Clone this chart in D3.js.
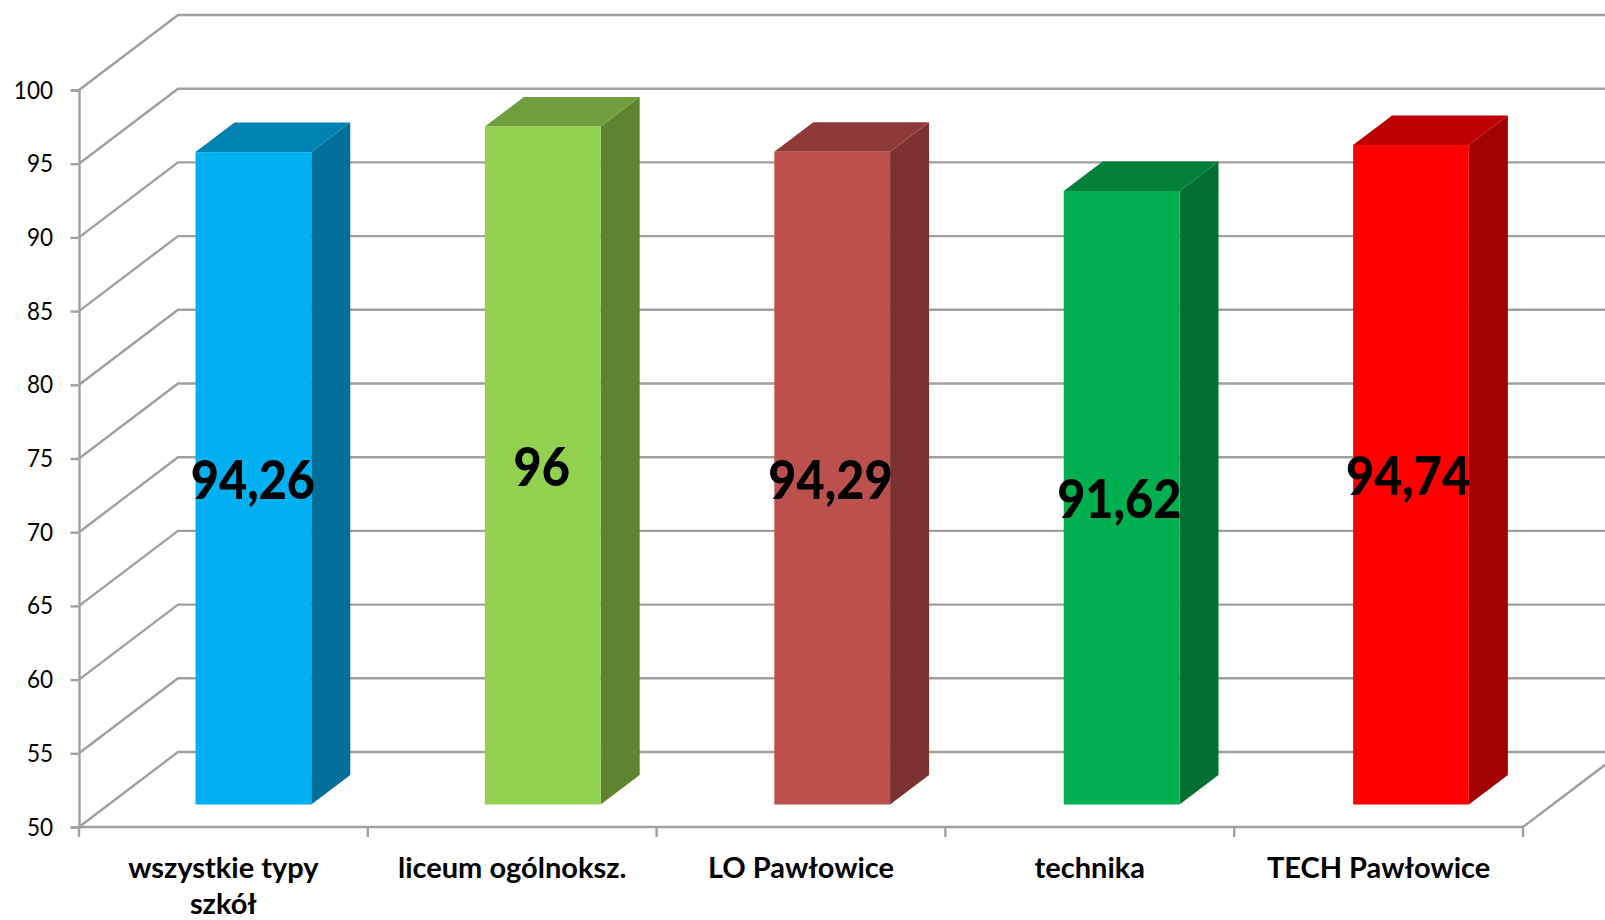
<!DOCTYPE html>
<html><head><meta charset="utf-8">
<style>html,body{margin:0;padding:0;background:#fff}svg{display:block}text{font-family:Lato,"Open Sans",sans-serif;fill:#000}</style>
<script src="https://cdn.jsdelivr.net/npm/d3@7"></script></head><body>
<script>
const categories=["wszystkie typy szkół","liceum ogólnoksz.","LO Pawłowice","technika","TECH Pawłowice"];
const categoryLines=[["wszystkie typy","szkół"],["liceum ogólnoksz."],["LO Pawłowice"],["technika"],["TECH Pawłowice"]];
const values=[94.26,96,94.29,91.62,94.74];
const frontColors=["#00B0F0","#92D050","#BC504D","#00B050","#FF0000"];
const sideColors=["#006F9A","#5F8430","#7C3230","#006F32","#A30000"];
const topColors=["#0082B2","#719E3C","#8E3A38","#008039","#BF0000"];
const yTicks=d3.range(50,101,5);

const W=1605,H=920,GRID="#A0A0A0";
const depthX=99,depthY=75;
const barDepthX=39,barDepthY=29.5;
const barOffY=22.5, labelOffX=29.5;
const y=d3.scaleLinear().domain([50,100]).range([827,90]);
const x=d3.scaleBand().domain(categories).range([79,1523]).paddingInner(0.6).paddingOuter(0.3);
const xBar=d3.scaleBand().domain(categories).range([108.7,1555.7]).paddingInner(0.6).paddingOuter(0.3);
const svg=d3.select("body").append("svg").attr("width",W).attr("height",H);
const line=d3.line();

svg.append("g").selectAll("path").data(yTicks).join("path")
  .attr("fill","none").attr("stroke",GRID).attr("stroke-width",2.4)
  .attr("d",t=>line([[79,y(t)],[79+depthX,y(t)-depthY],[W+30,y(t)-depthY]]));
svg.append("path").attr("stroke",GRID).attr("stroke-width",2.4).attr("fill","none")
  .attr("d",line([[1523,y(50)],[1523+depthX,y(50)-depthY]]));

const yAxis=svg.append("g").attr("transform","translate(79,0)")
  .call(d3.axisLeft(y).tickValues(yTicks).tickSize(8).tickPadding(18));
yAxis.selectAll("path,line").attr("stroke",GRID).attr("stroke-width",2.4);
yAxis.selectAll("line").attr("transform","translate(-0.5,0)");
yAxis.selectAll("text").attr("font-size",25).attr("fill","#000").style("font-family","Lato")
  .each(function(){const n=this.getComputedTextLength();d3.select(this).attr("textLength",n*0.9).attr("lengthAdjust","spacingAndGlyphs");});

const xBounds=d3.range(categories.length+1).map(i=>79+i*x.step());
svg.append("path").attr("stroke",GRID).attr("stroke-width",2.4).attr("fill","none")
  .attr("d",line([[79,y(50)],[1523,y(50)]]));
svg.append("g").selectAll("line").data(xBounds).join("line")
  .attr("x1",d=>d).attr("x2",d=>d).attr("y1",y(50)).attr("y2",y(50)+10)
  .attr("stroke",GRID).attr("stroke-width",2.4);
svg.append("g").selectAll("text").data(categories).join("text")
  .attr("text-anchor","middle").attr("font-size",29).attr("font-weight",700)
  .each(function(d,i){
    d3.select(this).selectAll("tspan").data(categoryLines[i]).join("tspan")
      .attr("x",x(d)+x.bandwidth()/2).attr("y",(l,j)=>878+j*36).text(l=>l);
  });

const bars=svg.append("g").selectAll("g").data(categories).join("g");
const bw=xBar.bandwidth();
const gx=d=>xBar(d), gb=y(50)-barOffY, gt=(d,i)=>y(values[i])-barOffY;
bars.append("path").attr("fill",(d,i)=>sideColors[i]).attr("d",(d,i)=>line([
  [gx(d)+bw,gb],[gx(d)+bw+barDepthX,gb-barDepthY],[gx(d)+bw+barDepthX,gt(d,i)-barDepthY],[gx(d)+bw,gt(d,i)]])+"Z");
bars.append("path").attr("fill",(d,i)=>topColors[i]).attr("d",(d,i)=>line([
  [gx(d),gt(d,i)],[gx(d)+barDepthX,gt(d,i)-barDepthY],[gx(d)+bw+barDepthX,gt(d,i)-barDepthY],[gx(d)+bw,gt(d,i)]])+"Z");
bars.append("rect").attr("fill",(d,i)=>frontColors[i]).attr("x",gx).attr("width",bw)
  .attr("y",gt).attr("height",(d,i)=>gb-gt(d,i));
bars.append("text").attr("text-anchor","middle").attr("dominant-baseline","central")
  .attr("font-size",54).attr("font-weight",900)
  .attr("x",d=>x(d)+x.bandwidth()/2+labelOffX).attr("y",(d,i)=>(gb+gt(d,i))/2)
  .text((d,i)=>String(values[i]).replace(".",","))
  .each(function(){const n=this.getComputedTextLength();d3.select(this).attr("textLength",n*0.9).attr("lengthAdjust","spacingAndGlyphs");});
</script></body></html>
